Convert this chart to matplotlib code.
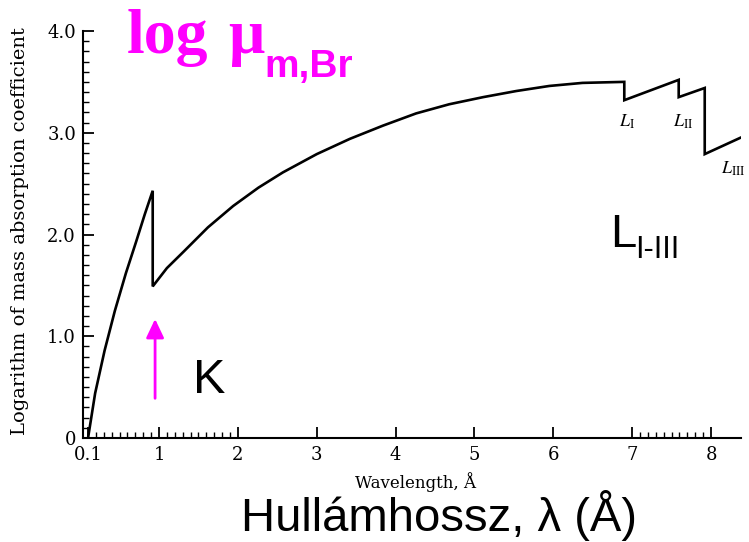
import matplotlib
matplotlib.use("Agg")
import matplotlib.pyplot as plt
from matplotlib.ticker import MultipleLocator, FixedLocator

# ---- data ----
wavelength = [0.10, 0.19, 0.31, 0.44, 0.58, 0.71, 0.82, 0.92,
              0.92, 1.00, 1.10, 1.31, 1.62, 1.94, 2.26, 2.57, 3.00, 3.42, 3.84,
              4.26, 4.68, 5.11, 5.53, 5.95, 6.37, 6.90,
              6.90, 7.59,
              7.59, 7.92,
              7.92, 8.37]
log_mu = [0.00, 0.44, 0.86, 1.25, 1.62, 1.93, 2.20, 2.43,
          1.49, 1.57, 1.67, 1.83, 2.07, 2.28, 2.46, 2.61, 2.79, 2.94, 3.07,
          3.19, 3.28, 3.35, 3.41, 3.46, 3.49, 3.50,
          3.32, 3.52,
          3.35, 3.44,
          2.79, 2.95]

x_major = [0.1, 1, 2, 3, 4, 5, 6, 7, 8]
x_major_labels = ["0.1", "1", "2", "3", "4", "5", "6", "7", "8"]
x_minor = [0.2, 0.3, 0.4, 0.5, 0.6, 0.7, 0.8, 0.9,
           1.1, 1.2, 1.3, 1.4, 1.5, 1.6, 1.7, 1.8, 1.9,
           7.1, 7.2, 7.3, 7.4, 7.5, 7.6, 7.7, 7.8, 7.9]
y_major = [0, 1, 2, 3, 4]
y_major_labels = ["0", "1.0", "2.0", "3.0", "4.0"]

edge_labels = [r"$L_{\rm I}$", r"$L_{\rm II}$", r"$L_{\rm III}$"]
edge_label_x = [6.83, 7.52, 8.13]
edge_label_y = [3.06, 3.06, 2.60]

MAGENTA = "#FF00FF"
W, H = 749, 542

fig = plt.figure(figsize=(W / 100, H / 100), dpi=100)
ax = fig.add_axes([83 / W, 1 - 438 / H, (741 - 83) / W, (438 - 31) / H])

ax.plot(wavelength, log_mu, color="black", lw=1.9, solid_joinstyle="miter")

ax.set_xlim(0.036, 8.38)
ax.set_ylim(0, 4.0)
for s in ("top", "right"):
    ax.spines[s].set_visible(False)
for s in ("left", "bottom"):
    ax.spines[s].set_linewidth(1.5)

ax.xaxis.set_major_locator(FixedLocator(x_major))
ax.set_xticklabels(x_major_labels)
ax.xaxis.set_minor_locator(FixedLocator(x_minor))
ax.yaxis.set_major_locator(FixedLocator(y_major))
ax.set_yticklabels(y_major_labels)
ax.yaxis.set_minor_locator(MultipleLocator(0.1))

ax.tick_params(which="both", direction="in", colors="black")
ax.tick_params(which="major", length=8, width=1.3)
ax.tick_params(which="minor", length=4, width=1.0)
ax.tick_params(axis="x", which="major", pad=6)
ax.tick_params(axis="y", which="major", pad=5)
for lab in ax.get_xticklabels() + ax.get_yticklabels():
    lab.set_fontfamily("DejaVu Serif")
    lab.set_fontsize(13)

ax.set_ylabel("Logarithm of mass absorption coefficient",
              fontfamily="DejaVu Serif", fontsize=14)
ax.yaxis.set_label_coords(-0.082, 0.509)
ax.set_xlabel("Wavelength, Å", fontfamily="DejaVu Serif", fontsize=12)
ax.xaxis.set_label_coords(0.5046, -0.083)

for t, xx, yy in zip(edge_labels, edge_label_x, edge_label_y):
    ax.text(xx, yy, t, fontsize=13, math_fontfamily="stix",
            ha="left", va="baseline", clip_on=False)

# magenta arrow at the K edge
ax.annotate("", xy=(0.95, 1.17), xytext=(0.95, 0.39),
            arrowprops=dict(arrowstyle="-|>,head_length=0.95,head_width=0.45",
                            color=MAGENTA, lw=2, mutation_scale=12,
                            shrinkA=0, shrinkB=0))


def ftext(px, py, s, **kw):
    fig.text(px / W, 1 - py / H, s, va="baseline", **kw)


# title
ftext(127, 53, "log", color=MAGENTA, fontfamily="Liberation Serif",
      fontweight="bold", fontsize=46)
ftext(228, 53, "μ", color=MAGENTA, fontfamily="Liberation Serif",
      fontweight="bold", fontsize=46)
ftext(264, 77, "m,Br", color=MAGENTA, fontfamily="Liberation Sans",
      fontweight="bold", fontsize=28)

# edge annotations
ftext(193, 393, "K", fontfamily="Liberation Sans", fontsize=35)
ftext(610, 247, "L", fontfamily="Liberation Sans", fontsize=34)
ftext(635, 258, "I-III", fontfamily="Liberation Sans", fontsize=22)

# Hungarian axis title
ftext(439, 531, "Hullámhossz, λ (Å)", fontfamily="Liberation Sans",
      fontsize=34, ha="center")

fig.savefig("out.png", dpi=100)
